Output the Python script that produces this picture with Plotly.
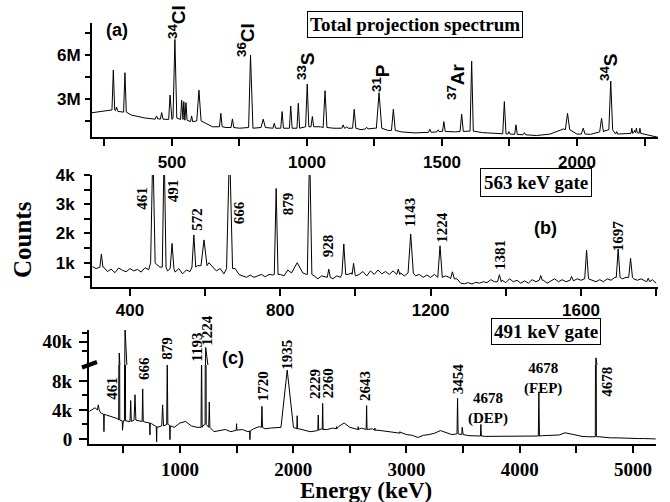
import plotly.graph_objects as go

# ---------------- DATA ----------------
# Panel (a): total projection (values in millions of counts)
a_bg_energy = list(range(200, 2301, 50))
a_bg_counts = [2.05, 2.2, 2.15, 1.9, 1.7, 1.65, 1.6, 1.5, 1.5, 1.1,
               1.05, 1.0, 1.0, 1.05, 1.0, 1.0, 1.05, 1.1, 1.0, 1.0,
               0.9, 1.0, 0.85, 0.75, 0.68, 0.75, 0.8, 0.75, 0.8, 0.7,
               0.62, 0.6, 0.55, 0.5, 0.6, 0.95, 0.6, 0.58, 0.8, 0.6,
               0.6, 0.6, 0.38]
a_peak_energy = [283, 295, 326, 443, 462, 493, 511, 536, 544, 552, 573, 600, 681, 724, 791, 838,
                 879, 908, 940, 968, 1001, 1020, 1067, 1134, 1147, 1175, 1221, 1267, 1320, 1455,
                 1486, 1507, 1573, 1610, 1731, 1748, 1774, 1805, 1965, 2023, 2091, 2125, 2147,
                 2203, 2213, 2220, 2233]
a_peak_height = [4.98, 2.45, 4.8, 1.84, 2.07, 3.27, 7.07, 2.93, 2.82, 2.75, 1.84, 3.6, 2.02, 1.64, 6.0, 1.62,
                 1.34, 2.14, 2.52, 2.71, 4.02, 1.8, 3.57, 1.23, 1.11, 2.3, 1.07, 3.43, 2.3, 0.93,
                 0.89, 1.45, 1.96, 5.6, 2.82, 0.77, 1.23, 0.7, 2.02, 1.0, 1.68, 4.23, 0.77,
                 1.0, 0.85, 1.0, 1.0]
a_peak_halfwidth = [5, 4, 5, 5, 5, 5, 7, 4, 3, 4, 4, 8, 5, 5, 7, 8,
                    5, 5, 5, 5, 6, 5, 7, 5, 5, 6, 5, 10, 7, 5,
                    5, 5, 6, 6, 6, 4, 5, 5, 8, 7, 7, 7, 4,
                    3, 3, 3, 3]
a_peak_foot = [2.25, 2.2, 2.1, 1.62, 1.62, 1.6, 1.7, 1.6, 1.6, 1.55, 1.45, 1.5, 1.1, 1.05, 1.05, 1.05,
               1.0, 1.0, 1.0, 1.0, 1.1, 1.1, 1.05, 1.0, 1.0, 1.0, 0.95, 1.0, 0.85, 0.72,
               0.75, 0.78, 0.78, 0.8, 0.62, 0.6, 0.58, 0.55, 0.9, 0.6, 0.75, 0.9, 0.6,
               0.65, 0.7, 0.7, 0.65]

# Panel (b): 563 keV gate (values in thousands of counts)
b_bg_energy = list(range(300, 1801, 10))
b_bg_counts = [0.87, 0.80, 0.72, 0.85, 0.70, 0.78, 0.66, 0.82, 0.74, 0.69, 0.80, 0.72, 0.77, 0.68, 0.83, 0.76,
               1.0, 0.95, 0.85, 0.8, 0.72, 0.8, 0.68, 0.8, 0.62, 0.75,
               0.7, 0.85, 0.9, 0.95, 1.0, 1.0, 0.85, 0.72, 0.8, 0.62,
               0.8, 0.8, 0.8, 0.6, 0.55, 0.5, 0.58, 0.5, 0.55, 0.6,
               0.52, 0.6, 0.58, 0.6, 0.6, 0.55, 0.75, 0.85, 0.95, 1.0,
               0.8, 0.6, 0.6, 0.55, 0.45, 0.55, 0.5, 0.5, 0.45, 0.55,
               0.5, 0.6, 0.6, 0.65, 0.55, 0.6, 0.7, 0.55, 0.72, 0.6,
               0.75, 0.62, 0.7, 0.6, 0.72, 0.6, 0.65, 0.55, 0.65, 0.65,
               0.55, 0.6, 0.5, 0.58, 0.5, 0.6, 0.5, 0.5, 0.55, 0.5,
               0.5, 0.45, 0.3, 0.28, 0.32, 0.27, 0.33, 0.3, 0.35, 0.32,
               0.42, 0.35, 0.35, 0.4, 0.32, 0.45, 0.35, 0.4, 0.3, 0.38,
               0.3, 0.42, 0.35, 0.4, 0.4, 0.3, 0.38, 0.45, 0.35, 0.42,
               0.35, 0.4, 0.38, 0.45, 0.4, 0.45, 0.45, 0.4, 0.35, 0.42,
               0.35, 0.45, 0.4, 0.5, 0.5, 0.45, 0.5, 0.5, 0.45, 0.4,
               0.45, 0.38, 0.4, 0.42, 0.3]
b_peak_energy = [324, 461, 491, 512, 570, 597, 665, 789, 845, 878, 929, 969, 995,
                 1114, 1147, 1225, 1258, 1383, 1493, 1575, 1615, 1699, 1732, 1779]
b_peak_height = [1.3, 5.0, 5.0, 1.66, 1.95, 1.78, 5.0, 3.54, 1.0, 5.0, 0.78, 1.64, 0.98,
                 0.78, 1.98, 1.58, 0.69, 0.59, 0.56, 0.53, 1.43, 1.47, 1.15, 0.47]
b_peak_halfwidth = [4, 6, 5, 5, 5, 8, 8, 5, 15, 6, 4, 5, 4,
                    4, 7, 6, 5, 5, 4, 4, 5, 5, 5, 4]
b_peak_foot = [0.85, 1.0, 0.85, 0.8, 0.85, 0.9, 0.8, 0.6, 0.65, 0.6, 0.5, 0.6, 0.6,
               0.6, 0.65, 0.5, 0.45, 0.35, 0.4, 0.4, 0.45, 0.5, 0.5, 0.35]

# Panel (c): 491 keV gate (values in thousands of counts)
c_bg_energy = list(range(200, 5201, 50))
c_bg_counts = [3.8, 4.3, 3.6, 3.3, 3.1, 2.8, 2.5, 2.4, 2.6, 2.5,
               2.3, 2.1, 1.6, 1.9, 2.0, 1.6, 2.2, 2.4, 1.8, 1.6,
               1.8, 1.6, 1.0, 1.1, 1.3, 1.0, 1.2, 1.3, 1.0, 1.4,
               1.7, 1.4, 1.5, 1.5, 2.0, 9.0, 1.6, 1.4, 1.2, 1.0,
               1.1, 1.4, 1.3, 1.5, 1.7, 2.2, 1.6, 1.4, 1.5, 1.3,
               1.4, 1.2, 1.1, 0.9, 0.8, 0.9, 0.6, 0.5, 0.2, 0.5,
               0.6, 0.8, 1.15, 0.9, 0.6, 0.7, 0.6, 0.45, 0.4, 0.4,
               0.35, 0.35, 0.35, 0.3, 0.3, 0.3, 0.35, 0.35, 0.4, 0.4,
               0.45, 0.45, 0.45, 0.55, 0.85, 0.7, 0.45, 0.35, 0.3, 0.35,
               0.3, 0.2, 0.15, 0.15, 0.1, 0.1, 0.05, 0.05, 0.05, 0.05,
               0.0]
c_peak_energy = [279, 329, 464, 493, 515, 565, 603, 671, 735, 794, 847, 888, 912,
                 1191, 1227, 1259, 1500, 1618, 1724, 1947, 2035, 2221, 2260, 2383,
                 2574, 2648, 2721, 2942, 3451, 3492, 3657, 4169, 4672]
c_peak_height = [4.7, 1.0, 33.7, 1.2, 48.0, 5.3, 6.1, 6.9, 0.55, -0.4, 4.7, 11.0, -0.1,
                 12.0, 36.8, 5.1, 2.1, -0.1, 4.5, 9.5, 3.2, 3.3, 4.9, 1.7,
                 1.7, 4.6, 1.5, 1.0, 5.6, 1.6, 2.0, 6.5, 31.0]
c_peak_halfwidth = [8, 3, 5, 3, 5, 6, 8, 5, 3, 3, 8, 5, 3,
                    5, 5, 5, 3, 3, 5, 55, 3, 4, 4, 3,
                    3, 4, 3, 3, 5, 4, 4, 5, 5]
c_peak_foot = [4.0, 3.4, 2.6, 2.5, 2.5, 2.4, 2.6, 2.4, 2.2, 1.7, 1.8, 2.0, 1.8,
               1.6, 2.0, 1.6, 1.2, 1.1, 1.6, 1.6, 1.4, 1.2, 1.3, 1.4,
               1.3, 1.3, 1.2, 0.8, 0.7, 0.6, 0.4, 0.4, 0.3]


def build(bg_e, bg_c, pe, ph, pw, pf):
    pts = []
    for e, c in zip(bg_e, bg_c):
        if any(abs(e - p) <= w for p, w in zip(pe, pw)):
            continue
        pts.append((e, c))
    for p, h, w, f in zip(pe, ph, pw, pf):
        pts += [(p - w, f), (p, h), (p + w, f)]
    pts.sort(key=lambda t: t[0])
    return [t[0] for t in pts], [t[1] for t in pts]


xa, ya = build(a_bg_energy, a_bg_counts, a_peak_energy, a_peak_height, a_peak_halfwidth, a_peak_foot)
xb, yb = build(b_bg_energy, b_bg_counts, b_peak_energy, b_peak_height, b_peak_halfwidth, b_peak_foot)
xc, yc = build(c_bg_energy, c_bg_counts, c_peak_energy, c_peak_height, c_peak_halfwidth, c_peak_foot)

# ---------------- FIGURE ----------------
W, H = 670, 502


def px(x):
    return x / W


def py(y):
    return 1 - y / H


SANS = "Liberation Sans"
SERIF = "Liberation Serif"
line = dict(color="black", width=1)

fig = go.Figure()
fig.add_trace(go.Scatter(x=xa, y=ya, mode="lines", line=line, xaxis="x", yaxis="y"))
fig.add_trace(go.Scatter(x=xb, y=yb, mode="lines", line=line, xaxis="x2", yaxis="y2"))
fig.add_trace(go.Scatter(x=xc, y=yc, mode="lines", line=line, xaxis="x3", yaxis="y3"))
fig.add_trace(go.Scatter(x=xc, y=yc, mode="lines", line=line, xaxis="x4", yaxis="y4"))


def xax(domain, anchor, rng, vals, minor, font, so=2):
    return dict(domain=domain, anchor=anchor, range=rng, showline=True, linewidth=2, linecolor="black",
                ticks="outside", ticklen=7, tickwidth=2, tickcolor="black", tickvals=vals,
                ticktext=[str(v) for v in vals], tickfont=font, showgrid=False, zeroline=False,
                automargin=False, ticklabelstandoff=so,
                minor=dict(tickvals=minor, ticks="outside", ticklen=7, tickwidth=2, tickcolor="black",
                           showgrid=False))


def yax(domain, anchor, rng, vals, text, minor, font, tl=6, mtl=5, so=0):
    return dict(domain=domain, anchor=anchor, range=rng, showline=True, linewidth=2, linecolor="black",
                ticks="outside", ticklen=tl, tickwidth=2, tickcolor="black", tickvals=vals, ticktext=text,
                tickfont=font, showgrid=False, zeroline=False, automargin=False, ticklabelstandoff=so,
                minor=dict(tickvals=minor, ticks="outside", ticklen=mtl, tickwidth=2, tickcolor="black",
                           showgrid=False))


fa = dict(family=SANS, size=17, color="black", weight="bold")
fc = dict(family=SERIF, size=19, color="black", weight="bold")

fig.update_layout(
    width=W, height=H, margin=dict(l=0, r=0, t=0, b=0, pad=0), autosize=False,
    paper_bgcolor="white", plot_bgcolor="white", showlegend=False,
    xaxis=xax([px(92), px(658)], "y", [204, 2300], [500, 1000, 1500, 2000],
              [250, 750, 1250, 1750, 2250], fa),
    yaxis=yax([py(137), py(23)], "x", [0.4, 8.2], [3, 6], ["3M", "6M"], [1.5, 4.5, 7.5], fa, 5, 5, 1),
    xaxis2=xax([px(92), px(658)], "y2", [299, 1805], [400, 800, 1200, 1600],
               [600, 1000, 1400, 1800], fa, 0),
    yaxis2=yax([py(287), py(175)], "x2", [0.17, 4.0], [1, 2, 3, 4], ["1k", "2k", "3k", "4k"],
               [0.5, 1.5, 2.5, 3.5], fa, 6, 6, 6),
    xaxis3=xax([px(89), px(656)], "y3", [197, 5203], [1000, 2000, 3000, 4000, 5000],
               [500, 1500, 2500, 3500, 4500], fc, 0),
    yaxis3=yax([py(444), py(365)], "x3", [-0.7, 10.2], [0, 4, 8], ["0", "4k", "8k"], [2, 6, 10], fc, 8, 5, 3),
    xaxis4=dict(domain=[px(89), px(656)], anchor="y4", range=[197, 5203], visible=False),
    yaxis4=yax([py(365), py(330)], "x4", [27, 46.5], [40], ["40k"], [35, 45], fc, 8, 5, 3),
)


def ann(text, x, y, font, angle=0, **kw):
    fig.add_annotation(text=text, x=px(x), y=py(y), xref="paper", yref="paper", showarrow=False,
                       xanchor="center", yanchor="middle", textangle=angle, font=font, **kw)


lab_a = dict(family=SANS, size=19, color="black", weight="bold")
lab_n = dict(family=SERIF, size=15, color="black", weight="bold")
box_f = dict(family=SERIF, size=19, color="black", weight="bold")
panel_f = dict(family=SANS, size=18, color="black", weight="bold")

# Panel (a)
ann("(a)", 117, 30, panel_f)
ann("Total projection spectrum", 415, 24.5, box_f, bordercolor="black", borderwidth=1, borderpad=2,
    bgcolor="white")
for t, x, y in [("<sup>34</sup>Cl", 177, 22), ("<sup>36</sup>Cl", 246, 40), ("<sup>33</sup>S", 306, 67),
                ("<sup>31</sup>P", 381, 78), ("<sup>37</sup>Ar", 456, 82), ("<sup>34</sup>S", 609, 68)]:
    ann(t, x, y, lab_a, -90)

# Panel (b)
ann("(b)", 545, 228, panel_f)
ann("563 keV gate", 536, 182, box_f, bordercolor="black", borderwidth=1, borderpad=3, bgcolor="white")
for t, x, y in [("461", 141.7, 198), ("491", 173.3, 191), ("572", 196.7, 219), ("666", 239.3, 213),
                ("879", 288.3, 204), ("928", 328.3, 246), ("1143", 410, 213), ("1224", 441.7, 227),
                ("1381", 500, 255), ("1697", 618.3, 236)]:
    ann(t, x, y, lab_n, -90)

# Panel (c)
ann("(c)", 233, 358, panel_f)
ann("491 keV gate", 545.5, 331, box_f, bordercolor="black", borderwidth=1, borderpad=2, bgcolor="white")
for t, x, y in [("461", 111.7, 388), ("666", 144, 369), ("879", 166.7, 348), ("1193", 196.7, 347),
                ("1224", 206.7, 330), ("1720", 263.3, 386), ("1935", 286.7, 355), ("2229", 315, 384),
                ("2260", 328.3, 383), ("2643", 365, 386), ("3454", 458.3, 379), ("4678", 606.7, 382)]:
    ann(t, x, y, lab_n, -90)
ann("4678<br>(DEP)", 488, 408, lab_n)
ann("4678<br>(FEP)", 543, 378, lab_n)

# Axis titles
ann("Counts", 22, 240, dict(family=SERIF, size=25, color="black", weight="bold"), -90)
ann("Energy (keV)", 366, 490.5, dict(family=SERIF, size=23, color="black", weight="bold"))

# Axis break marker
fig.add_shape(type="line", xref="paper", yref="paper", x0=px(82), y0=py(367.5), x1=px(97), y1=py(362),
              line=dict(color="black", width=4))

fig.write_html("out.html", config={"displayModeBar": False},
               post_script="document.body.style.margin='0';document.body.style.overflow='hidden';")
